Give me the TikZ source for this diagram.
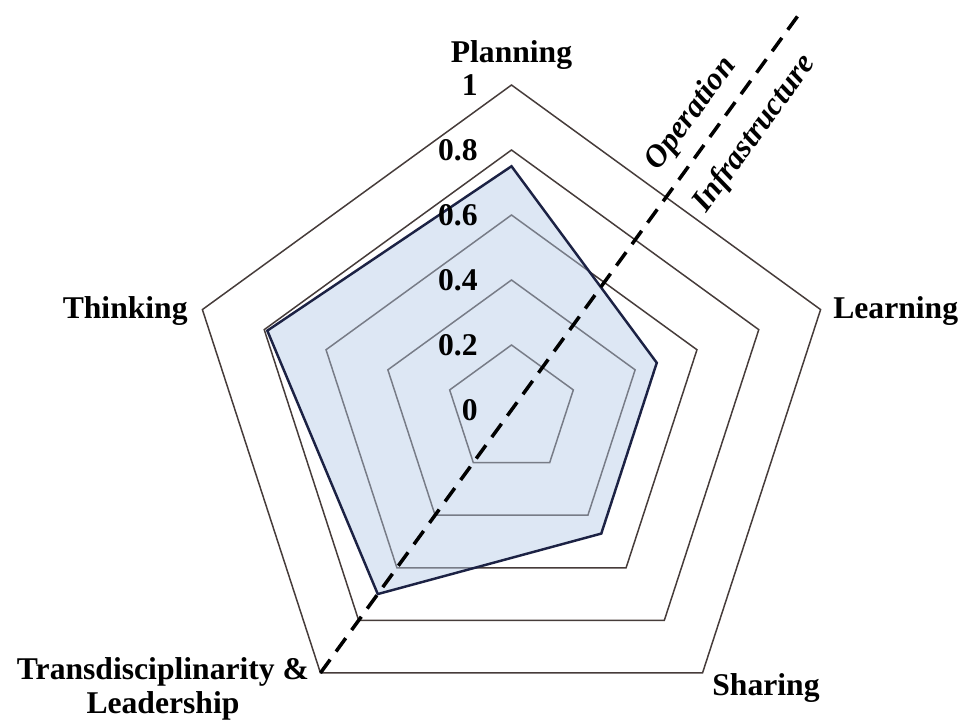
\documentclass[tikz,border=0pt]{standalone}
\usepackage{fontspec}
\setmainfont{Liberation Serif}
\definecolor{gridline}{RGB}{70,60,58}
\definecolor{seriesfill}{RGB}{180,202,230}
\definecolor{seriesline}{RGB}{28,34,68}
\tikzset{
  ring/.style={draw=gridline, line width=0.85pt},
  axisname/.style={font=\fontsize{18}{19.5}\selectfont\bfseries, inner sep=0pt},
  tickname/.style={font=\fontsize{18}{19.5}\selectfont\bfseries, inner sep=0pt, anchor=east},
  zonename/.style={font=\fontsize{18}{19.5}\selectfont\bfseries\itshape, inner sep=0pt, rotate=54}
}
\begin{document}
\begin{tikzpicture}
\useasboundingbox (-10.23,-6.28) rectangle (8.99,8.2);
% rings 0.2 ... 1
\draw[ring] (90:1.3) -- (18:1.3) -- (-54:1.3) -- (234:1.3) -- (162:1.3) -- cycle;
\draw[ring] (90:2.6) -- (18:2.6) -- (-54:2.6) -- (234:2.6) -- (162:2.6) -- cycle;
\draw[ring] (90:3.9) -- (18:3.9) -- (-54:3.9) -- (234:3.9) -- (162:3.9) -- cycle;
\draw[ring] (90:5.2) -- (18:5.2) -- (-54:5.2) -- (234:5.2) -- (162:5.2) -- cycle;
\draw[ring] (90:6.5) -- (18:6.5) -- (-54:6.5) -- (234:6.5) -- (162:6.5) -- cycle;
% the scores
\fill[seriesfill, opacity=0.45] (90:4.875) -- (18:3.055) -- (-54:3.055) -- (234:4.55) -- (162:5.135) -- cycle;
\draw[seriesline, line width=1.4pt, line join=miter] (90:4.875) -- (18:3.055) -- (-54:3.055) -- (234:4.55) -- (162:5.135) -- cycle;
% tick values
\node[tickname] (t0) at (-0.67,0) {0};
\node[tickname] (t2) at (-0.67,1.3) {0.2};
\node[tickname] (t4) at (-0.67,2.6) {0.4};
\node[tickname] (t6) at (-0.67,3.9) {0.6};
\node[tickname] (t8) at (-0.67,5.2) {0.8};
\node[tickname] (t10) at (-0.67,6.5) {1};
% axis names
\node[axisname] (planning) at (0,7.1) {Planning};
\node[axisname, anchor=west] (learning) at (6.43,1.98) {Learning};
\node[axisname, anchor=west] (sharing) at (4.01,-5.56) {Sharing};
\node[axisname, anchor=east] (thinking) at (-6.47,1.98) {Thinking};
\node[axisname, align=center] (leadership) at (-6.97,-5.58) {Transdisciplinarity \&\\Leadership};
% split line
\draw[black, line width=2pt, dash pattern=on 0.33cm off 0.2cm] (234:6.5) -- (54:9.83);
\node[zonename] (operation) at (3.6,5.92) {Operation};
\node[zonename] (infrastructure) at (4.87,5.52) {Infrastructure};
\end{tikzpicture}
\end{document}
